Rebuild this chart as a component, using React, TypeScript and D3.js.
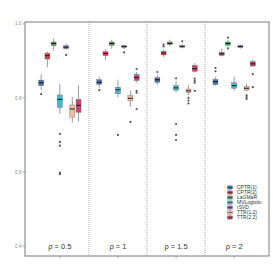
import React, { useEffect, useRef } from 'react';
import * as d3 from 'd3';

// groups (rho values)
const groups = ['ρ = 0.5', 'ρ = 1', 'ρ = 1.5', 'ρ = 2'];
const methods = ['CPTR(1)', 'CPTR(2)', 'LaGMaR', 'MVLogistic', 'rSVD', 'TTR(1,2)', 'TTR(2,2)'];
const colors = ['#4d74a9', '#d8464f', '#5f9f5c', '#49b7d0', '#8a6aa8', '#f8bb9f', '#c9436c'];

// five-number summaries [lower whisker, q1, median, q3, upper whisker] per group
const cptr1 = [[0.822, 0.833, 0.841, 0.848, 0.864], [0.828, 0.837, 0.842, 0.849, 0.857], [0.835, 0.842, 0.849, 0.855, 0.862], [0.833, 0.836, 0.844, 0.850, 0.857]];
const cptr2 = [[0.883, 0.905, 0.914, 0.921, 0.925], [0.902, 0.914, 0.920, 0.925, 0.932], [0.911, 0.916, 0.921, 0.926, 0.930], [0.912, 0.915, 0.919, 0.923, 0.933]];
const lagmar = [[0.928, 0.941, 0.947, 0.951, 0.961], [0.933, 0.942, 0.947, 0.951, 0.957], [0.939, 0.944, 0.947, 0.951, 0.957], [0.939, 0.942, 0.947, 0.951, 0.957]];
const mvlogistic = [[0.757, 0.774, 0.796, 0.808, 0.838], [0.801, 0.811, 0.822, 0.829, 0.849], [0.815, 0.821, 0.827, 0.833, 0.846], [0.819, 0.826, 0.833, 0.841, 0.857]];
const rsvd = [[0.930, 0.933, 0.937, 0.941, 0.947], [0.932, 0.936, 0.939, 0.941, 0.944], [0.934, 0.937, 0.939, 0.941, 0.946], [0.933, 0.936, 0.939, 0.941, 0.944]];
const ttr12 = [[0.733, 0.748, 0.770, 0.781, 0.802], [0.776, 0.792, 0.799, 0.806, 0.820], [0.808, 0.814, 0.819, 0.824, 0.834], [0.817, 0.821, 0.826, 0.830, 0.838]];
const ttr22 = [[0.736, 0.761, 0.780, 0.796, 0.835], [0.841, 0.847, 0.855, 0.863, 0.870], [0.869, 0.872, 0.879, 0.888, 0.894], [0.884, 0.886, 0.892, 0.898, 0.904]];

// outliers per group
const cptr1Out = [[0.810], [0.821], [0.870], [0.881, 0.872]];
const cptr2Out = [[], [], [0.944, 0.939], []];
const lagmarOut = [[], [], [], [0.963, 0.934]];
const mvlogisticOut = [[0.703, 0.681, 0.671, 0.598, 0.594], [0.700], [0.853, 0.730, 0.700, 0.686], []];
const rsvdOut = [[0.916], [0.923], [0.953], []];
const ttr12Out = [[], [0.735], [0.800, 0.793, 0.785], [0.807, 0.802, 0.797]];
const ttr22Out = [[], [0.878, 0.819, 0.814, 0.770], [0.852, 0.846, 0.841, 0.819], [0.864, 0.829]];

const yTicks = [0.4, 0.6, 0.8, 1.0];

const stats = [cptr1, cptr2, lagmar, mvlogistic, rsvd, ttr12, ttr22];
const outs = [cptr1Out, cptr2Out, lagmarOut, mvlogisticOut, rsvdOut, ttr12Out, ttr22Out];

const App = () => {
  const svgRef = useRef<SVGSVGElement>(null);

  useEffect(() => {
    const width = 273;
    const height = 273;
    const margin = { top: 22, right: 4, bottom: 17, left: 25 };
    const font = 'Liberation Sans, Arial, sans-serif';

    const svg = d3.select(svgRef.current);
    svg.selectAll('*').remove();
    svg.attr('width', width).attr('height', height).style('background', '#fff');

    const x = d3.scaleLinear()
      .domain([0.4, groups.length + 0.6])
      .range([margin.left, width - margin.right]);
    const unit = x(2) - x(1);
    const inner = d3.scaleBand()
      .domain(methods)
      .range([-0.375 * unit, 0.375 * unit]);
    const boxW = inner.bandwidth() * 0.8;

    const y = d3.scaleLinear()
      .domain([0.373, 1.005])
      .range([height - margin.bottom, margin.top]);

    // group separators
    svg.selectAll('.sep')
      .data(d3.range(1, groups.length))
      .join('line')
      .attr('x1', d => x(d + 0.5))
      .attr('x2', d => x(d + 0.5))
      .attr('y1', margin.top)
      .attr('y2', height - margin.bottom)
      .attr('stroke', '#9a9a9a')
      .attr('stroke-width', 0.8)
      .attr('stroke-dasharray', '1,1');

    // boxes
    methods.forEach((m, j) => {
      const g = svg.append('g');
      stats[j].forEach((s, i) => {
        const cx = x(i + 1) + inner(m)! + inner.bandwidth() / 2;
        const [wlo, q1, med, q3, whi] = s;
        g.append('line')
          .attr('x1', cx).attr('x2', cx)
          .attr('y1', y(whi)).attr('y2', y(q3))
          .attr('stroke', '#555').attr('stroke-width', 0.6);
        g.append('line')
          .attr('x1', cx).attr('x2', cx)
          .attr('y1', y(q1)).attr('y2', y(wlo))
          .attr('stroke', '#555').attr('stroke-width', 0.6);
        g.append('rect')
          .attr('x', cx - boxW / 2)
          .attr('y', y(q3))
          .attr('width', boxW)
          .attr('height', y(q1) - y(q3))
          .attr('fill', colors[j])
          .attr('stroke', '#666')
          .attr('stroke-width', 0.4);
        g.append('line')
          .attr('x1', cx - boxW / 2).attr('x2', cx + boxW / 2)
          .attr('y1', y(med)).attr('y2', y(med))
          .attr('stroke', '#1a1a1a').attr('stroke-width', 1);
        g.selectAll(null)
          .data(outs[j][i])
          .join('circle')
          .attr('cx', cx)
          .attr('cy', d => y(d))
          .attr('r', 1.1)
          .attr('fill', '#555');
      });
    });

    // panel border
    svg.append('rect')
      .attr('x', margin.left)
      .attr('y', margin.top)
      .attr('width', width - margin.left - margin.right)
      .attr('height', height - margin.top - margin.bottom)
      .attr('fill', 'none')
      .attr('stroke', '#7a7a7a')
      .attr('stroke-width', 1);

    // y axis ticks
    const yAxis = svg.append('g');
    yTicks.forEach(t => {
      yAxis.append('line')
        .attr('x1', margin.left - 2.5).attr('x2', margin.left)
        .attr('y1', y(t)).attr('y2', y(t))
        .attr('stroke', '#7a7a7a').attr('stroke-width', 0.6);
      yAxis.append('text')
        .attr('x', margin.left - 3.5)
        .attr('y', y(t))
        .attr('dy', '0.35em')
        .attr('text-anchor', 'end')
        .style('font-family', font)
        .style('font-size', '4.6px')
        .attr('fill', '#888')
        .text(t.toFixed(1));
    });

    // x ticks + group labels
    groups.forEach((gname, i) => {
      svg.append('line')
        .attr('x1', x(i + 1)).attr('x2', x(i + 1))
        .attr('y1', height - margin.bottom).attr('y2', height - margin.bottom + 2.5)
        .attr('stroke', '#7a7a7a').attr('stroke-width', 0.6);
      svg.append('text')
        .attr('x', x(i + 1))
        .attr('y', y(0.4) + 2.5)
        .attr('text-anchor', 'middle')
        .style('font-family', font)
        .style('font-size', '7.5px')
        .attr('fill', '#333')
        .text(gname);
    });

    // legend
    const legend = svg.append('g').attr('transform', 'translate(227,187.5)');
    methods.forEach((m, j) => {
      const row = legend.append('g').attr('transform', `translate(0,${j * 5})`);
      row.append('line')
        .attr('x1', 3).attr('x2', 3).attr('y1', -2.4).attr('y2', 2.4)
        .attr('stroke', '#555').attr('stroke-width', 0.5);
      row.append('rect')
        .attr('x', 0.5).attr('y', -1.6).attr('width', 5).attr('height', 3.2)
        .attr('fill', colors[j]).attr('stroke', '#666').attr('stroke-width', 0.3);
      row.append('line')
        .attr('x1', 0.5).attr('x2', 5.5).attr('y1', 0).attr('y2', 0)
        .attr('stroke', '#1a1a1a').attr('stroke-width', 0.5);
      row.append('text')
        .attr('x', 10)
        .attr('y', 0)
        .attr('dy', '0.35em')
        .style('font-family', font)
        .style('font-size', '5px')
        .attr('fill', '#333')
        .text(m);
    });
  }, []);

  return (
    <div style={{ position: 'absolute', left: 0, top: 0 }}>
      <svg ref={svgRef}></svg>
    </div>
  );
};

export default App;
